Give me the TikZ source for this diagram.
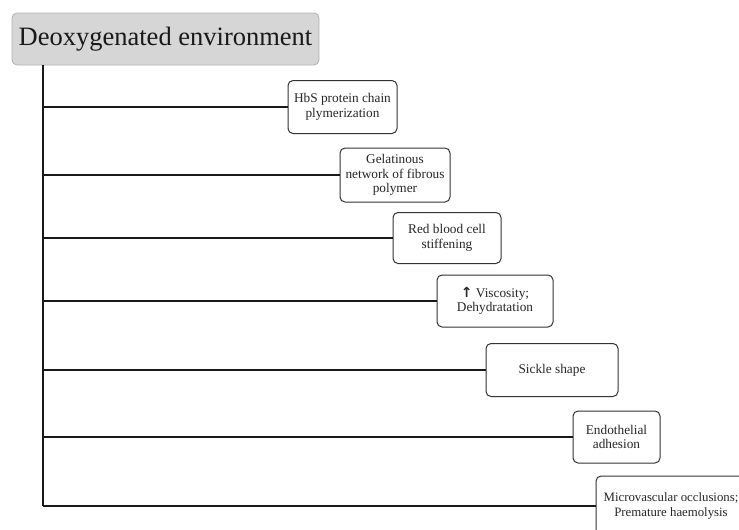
\documentclass[tikz,border=0pt]{standalone}
\usepackage{fontspec}
\setmainfont{Liberation Serif}
\newfontfamily\symfont{DejaVu Sans}
\begin{document}
\begin{tikzpicture}[x=1pt,y=-1pt,
  stepbox/.style={draw=black!80,line width=1pt,rounded corners=5pt,fill=white,
    align=center,inner sep=1pt,font=\fontsize{13.3}{14.5}\selectfont,text=black!85},
  link/.style={line width=1.8pt,black!90}]
\useasboundingbox (0,0) rectangle (739,530);
\begin{scope}
\clip (0,0) rectangle (739,530);
\node[draw=black!30,line width=0.8pt,fill=black!16,rounded corners=5pt,
  minimum width=307pt,minimum height=52pt,font=\fontsize{26.5}{30}\selectfont,text=black!90]
  (title) at (165.5,39) {Deoxygenated environment};
\coordinate (top) at (43,65);
\node[stepbox,minimum width=109pt,minimum height=53pt] (n1) at (342.5,107) {HbS protein chain\\plymerization};
\node[stepbox,minimum width=110pt,minimum height=54pt] (n2) at (395,175) {Gelatinous\\network of fibrous\\polymer};
\node[stepbox,minimum width=108pt,minimum height=51pt] (n3) at (447,238) {Red blood cell\\stiffening};
\node[stepbox,minimum width=116pt,minimum height=52pt] (n4) at (495,301) {{\symfont\bfseries\fontsize{14}{14.5}\selectfont ↑} Viscosity;\\Dehydratation};
\node[stepbox,minimum width=132pt,minimum height=53pt] (n5) at (552,370) {Sickle shape};
\node[stepbox,minimum width=87pt,minimum height=52pt] (n6) at (616.5,437) {Endothelial\\adhesion};
\node[stepbox,minimum width=150pt,minimum height=60pt,font=\fontsize{12.8}{14.5}\selectfont] (n7) at (671,506) {Microvascular occlusions;\\Premature haemolysis};
\draw[link] (top) -- (n7.west -| top);
\foreach \n in {n1,n2,n3,n4,n5,n6,n7}
  \draw[link] (\n.west -| top) -- (\n.west);
\end{scope}
\end{tikzpicture}
\end{document}
